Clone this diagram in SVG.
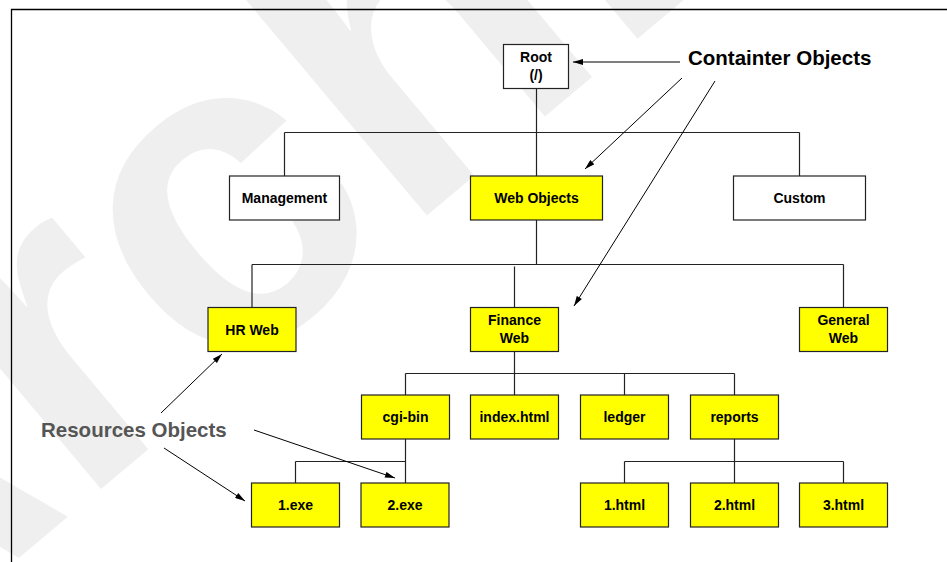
<svg xmlns="http://www.w3.org/2000/svg" width="947" height="562" viewBox="0 0 947 562">
  <defs>
    <marker id="arrow" viewBox="0 0 10 6" refX="10" refY="3" markerWidth="11" markerHeight="6" markerUnits="userSpaceOnUse" orient="auto">
      <path d="M0 0 L10 3 L0 6 Z" fill="#000"/>
    </marker>
    <style>
      .box { stroke: #222; stroke-width: 1.2; }
      .white { fill: #fff; }
      .yellow { fill: #ffff00; }
      .label { font-family: "Liberation Sans", Arial, sans-serif; font-weight: bold; font-size: 14px; fill: #000; text-anchor: middle; }
      .big { font-family: "Liberation Sans", Arial, sans-serif; font-weight: bold; font-size: 20.5px; }
      .wire { stroke: #222; stroke-width: 1.2; fill: none; }
      .pointer { stroke: #000; stroke-width: 1; fill: none; marker-end: url(#arrow); }
      .mark { font-family: "Liberation Sans", Arial, sans-serif; font-weight: bold; font-size: 450px; fill: #efefef; }
    </style>
  </defs>

  <rect width="947" height="562" fill="#fff"/>

  <!-- background watermark -->
  <text class="mark" x="0" y="0" transform="translate(-172 718) rotate(-40)">Archived</text>

  <!-- frame -->
  <path d="M11.5 562 V9.5 H947" stroke="#000" stroke-width="1.3" fill="none"/>

  <!-- tree connectors -->
  <g id="connectors">
    <path class="wire" d="M536.5 88.5 V176 M284.5 132.5 H799.5 M284.5 132.5 V176 M799.5 132.5 V176"/>
    <path class="wire" d="M536.5 220 V264.5 M252 264.5 H843.5 M252 264.5 V307.5 M843.5 264.5 V307.5 M514.5 266.5 V307.5"/>
    <path class="wire" d="M514.5 351.5 V395 M405.5 373.5 H734.5 M405.5 373.5 V395 M624.5 373.5 V395 M734.5 373.5 V395"/>
    <path class="wire" d="M405.5 439 V483 M295.5 461.5 H405.5 M295.5 461.5 V483"/>
    <path class="wire" d="M734.5 439 V483 M624.5 461.5 H843.5 M624.5 461.5 V483 M843.5 461.5 V483"/>
    <!-- callout pointers -->
    <line class="pointer" x1="680" y1="62" x2="573" y2="62"/>
    <line class="pointer" x1="682" y1="78" x2="585" y2="169"/>
    <line class="pointer" x1="715" y1="81" x2="574" y2="306"/>
    <line class="pointer" x1="161" y1="413" x2="222" y2="354"/>
    <line class="pointer" x1="254" y1="430" x2="395" y2="478"/>
    <line class="pointer" x1="164" y1="448" x2="245" y2="501"/>
  </g>

  <!-- nodes -->
  <g id="root">
    <rect class="box white" x="503.5" y="44.5" width="65" height="44"/>
    <text class="label" x="536" y="61.6">Root</text>
    <text class="label" x="536" y="80.3">(/)</text>
  </g>
  <g id="management">
    <rect class="box white" x="229.5" y="176" width="110" height="44"/>
    <text class="label" x="284.5" y="203">Management</text>
  </g>
  <g id="web-objects">
    <rect class="box yellow" x="470.5" y="176" width="132" height="44"/>
    <text class="label" x="536.5" y="203">Web Objects</text>
  </g>
  <g id="custom">
    <rect class="box white" x="733.5" y="176" width="132" height="44"/>
    <text class="label" x="799.5" y="203">Custom</text>
  </g>
  <g id="hr-web">
    <rect class="box yellow" x="208" y="307.5" width="88" height="44"/>
    <text class="label" x="252" y="334.5">HR Web</text>
  </g>
  <g id="finance-web">
    <rect class="box yellow" x="470.5" y="307.5" width="88" height="44"/>
    <text class="label" x="514.5" y="325">Finance</text>
    <text class="label" x="514.5" y="343">Web</text>
  </g>
  <g id="general-web">
    <rect class="box yellow" x="799.5" y="307.5" width="88" height="44"/>
    <text class="label" x="843.5" y="325">General</text>
    <text class="label" x="843.5" y="343">Web</text>
  </g>
  <g id="cgi-bin">
    <rect class="box yellow" x="361.5" y="395" width="88" height="44"/>
    <text class="label" x="405.5" y="422">cgi-bin</text>
  </g>
  <g id="index-html">
    <rect class="box yellow" x="470.5" y="395" width="88" height="44"/>
    <text class="label" x="514.5" y="422">index.html</text>
  </g>
  <g id="ledger">
    <rect class="box yellow" x="580.5" y="395" width="88" height="44"/>
    <text class="label" x="624.5" y="422">ledger</text>
  </g>
  <g id="reports">
    <rect class="box yellow" x="690.5" y="395" width="88" height="44"/>
    <text class="label" x="734.5" y="422">reports</text>
  </g>
  <g id="exe-1">
    <rect class="box yellow" x="251.5" y="483" width="88" height="44"/>
    <text class="label" x="295.5" y="510">1.exe</text>
  </g>
  <g id="exe-2">
    <rect class="box yellow" x="361" y="483" width="88" height="44"/>
    <text class="label" x="405" y="510">2.exe</text>
  </g>
  <g id="html-1">
    <rect class="box yellow" x="580.5" y="483" width="88" height="44"/>
    <text class="label" x="624.5" y="510">1.html</text>
  </g>
  <g id="html-2">
    <rect class="box yellow" x="690.5" y="483" width="88" height="44"/>
    <text class="label" x="734.5" y="510">2.html</text>
  </g>
  <g id="html-3">
    <rect class="box yellow" x="799.5" y="483" width="88" height="44"/>
    <text class="label" x="843.5" y="510">3.html</text>
  </g>

  <!-- callout captions -->
  <g id="container-caption">
    <text class="big" x="688" y="65" fill="#000">Containter Objects</text>
  </g>
  <g id="resources-caption">
    <text class="big" x="41" y="437" fill="#555">Resources Objects</text>
  </g>
</svg>
